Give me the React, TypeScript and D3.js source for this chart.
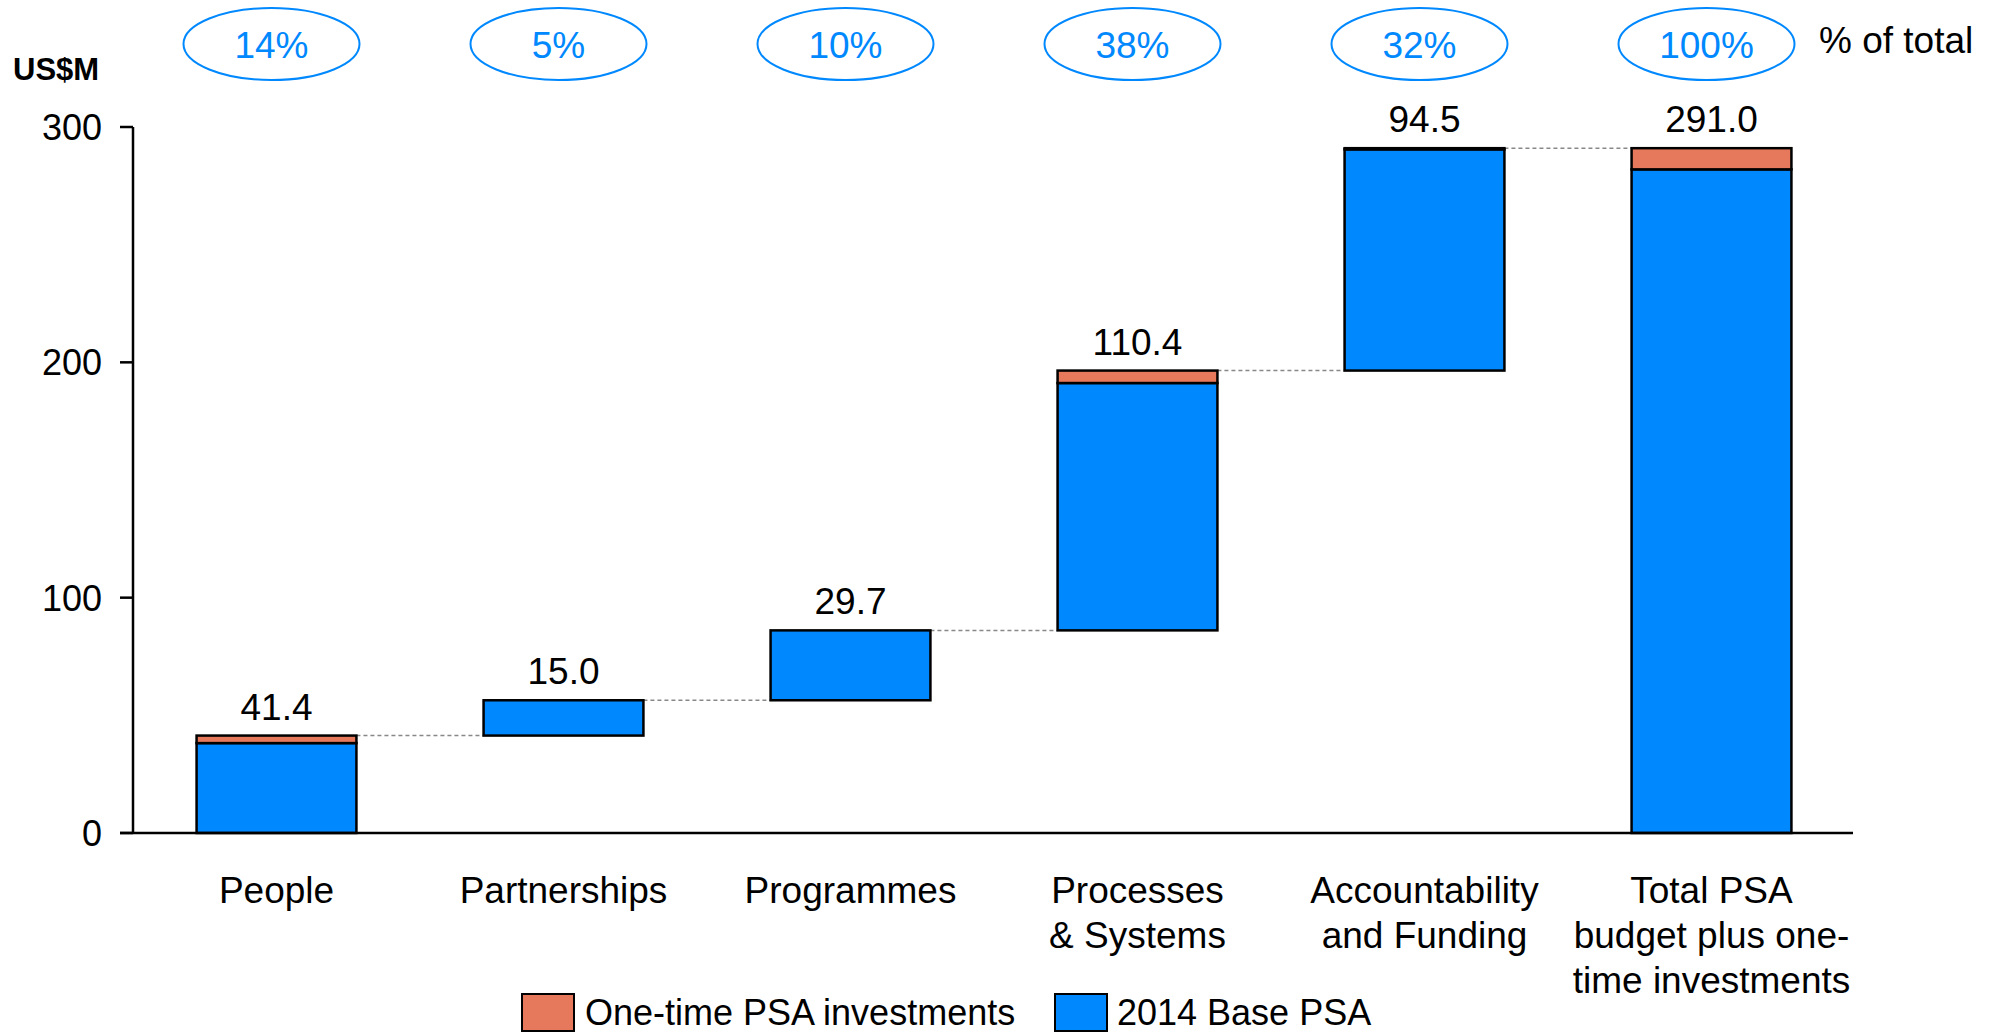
import React from 'react';
import * as d3 from 'd3';

const categories = [
  ['People'],
  ['Partnerships'],
  ['Programmes'],
  ['Processes', '& Systems'],
  ['Accountability', 'and Funding'],
  ['Total PSA', 'budget plus one-', 'time investments'],
];
const baseValues = [38.2, 15.0, 29.7, 105.1, 94.0];
const oneTimeValues = [3.2, 0, 0, 5.3, 0.5];
const shareLabels = ['14%', '5%', '10%', '38%', '32%', '100%'];
const yTicks = [0, 100, 200, 300];

const BLUE = '#0088ff';
const ORANGE = '#e6795c';
const FONT = '"Liberation Sans", Arial, sans-serif';

const App = () => {
  const width = 1990;
  const height = 1035;
  const left = 133;
  const right = 1855;
  const top = 127;
  const bottom = 833;

  const x = d3.scaleBand<number>()
    .domain(d3.range(categories.length))
    .range([left, right])
    .paddingInner(0.443)
    .paddingOuter(0.2215);

  const y = d3.scaleLinear().domain([0, 300]).range([bottom, top]);

  // waterfall steps, then the total bar
  let running = 0;
  const bars = baseValues.map((b, i) => {
    const start = running;
    running += b + oneTimeValues[i];
    return { i, start, base: b, oneTime: oneTimeValues[i], end: running };
  });
  const totalBase = d3.sum(baseValues);
  const totalOne = d3.sum(oneTimeValues);
  bars.push({ i: categories.length - 1, start: 0, base: totalBase, oneTime: totalOne, end: totalBase + totalOne });

  const bw = x.bandwidth();

  return (
    <svg width={width} height={height} style={{ position: 'absolute', left: 0, top: 0, fontFamily: FONT }}>
      <rect width={width} height={height} fill="#fff" />

      {/* y axis */}
      <line x1={left} x2={left} y1={top} y2={bottom} stroke="#000" strokeWidth={2.5} />
      {yTicks.map(t => (
        <g key={t}>
          <line x1={left - 13} x2={left} y1={y(t)} y2={y(t)} stroke="#000" strokeWidth={2.5} />
          <text x={102} y={y(t) + 13} textAnchor="end" fontSize={36} fill="#000">{t}</text>
        </g>
      ))}
      <text x={13} y={80} fontSize={31} fontWeight="bold" fill="#000">US$M</text>

      {/* connectors */}
      {bars.slice(0, -1).map((d, k) => {
        const next = bars[k + 1];
        return (
          <line key={'c' + k}
            x1={x(d.i)! + bw} x2={x(next.i)!}
            y1={y(d.end)} y2={y(d.end)}
            stroke="#888" strokeWidth={1.5} strokeDasharray="4,3" />
        );
      })}

      {/* bars */}
      {bars.map(d => (
        <g key={'b' + d.i}>
          <rect x={x(d.i)} y={y(d.start + d.base)} width={bw}
            height={y(d.start) - y(d.start + d.base)}
            fill={BLUE} stroke="#000" strokeWidth={2.5} />
          {d.oneTime > 0 && (
            <rect x={x(d.i)} y={y(d.end)} width={bw}
              height={y(d.start + d.base) - y(d.end)}
              fill={ORANGE} stroke="#000" strokeWidth={2.5} />
          )}
          <text x={x(d.i)! + bw / 2} y={y(d.end) - 16} textAnchor="middle" fontSize={37} fill="#000">
            {(d.base + d.oneTime).toFixed(1)}
          </text>
        </g>
      ))}

      {/* x axis */}
      <line x1={left - 13} x2={1853} y1={bottom} y2={bottom} stroke="#000" strokeWidth={2.5} />
      {categories.map((lines, i) => (
        <text key={'x' + i} textAnchor="middle" fontSize={37} fill="#000">
          {lines.map((ln, j) => (
            <tspan key={j} x={x(i)! + bw / 2} y={903 + j * 45}>{ln}</tspan>
          ))}
        </text>
      ))}

      {/* share ellipses */}
      {shareLabels.map((s, i) => (
        <g key={'s' + i}>
          <ellipse cx={x(i)! + bw / 2 - 5} cy={44} rx={88} ry={36} fill="none" stroke={BLUE} strokeWidth={2} />
          <text x={x(i)! + bw / 2 - 5} y={58} textAnchor="middle" fontSize={37} fill={BLUE}>{s}</text>
        </g>
      ))}
      <text x={1819} y={53} fontSize={37} fill="#000">% of total</text>

      {/* legend */}
      <rect x={522} y={994} width={52} height={37} fill={ORANGE} stroke="#000" strokeWidth={2} />
      <text x={585} y={1025} fontSize={36} fill="#000">One-time PSA investments</text>
      <rect x={1055} y={994} width={52} height={37} fill={BLUE} stroke="#000" strokeWidth={2} />
      <text x={1117} y={1025} fontSize={36} fill="#000">2014 Base PSA</text>
    </svg>
  );
};

export default App;
